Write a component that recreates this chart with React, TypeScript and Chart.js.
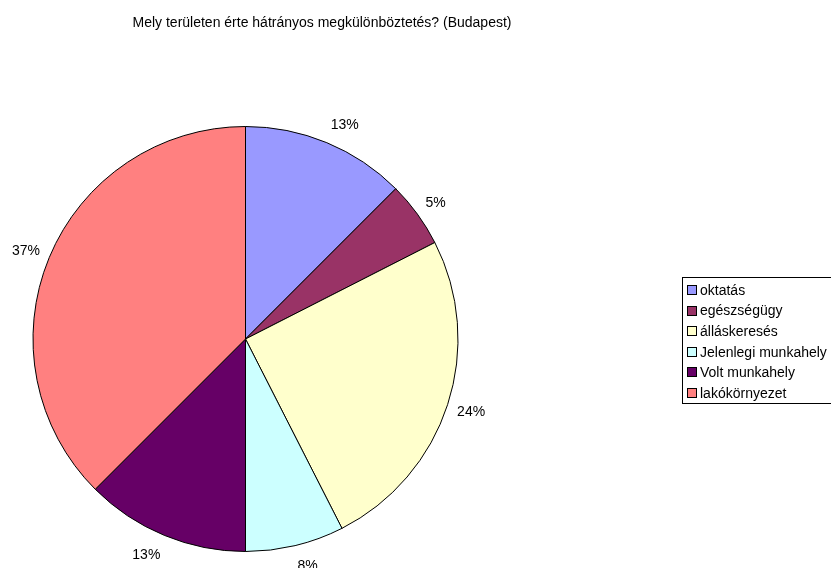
import React, { useEffect, useRef } from "react";
import { Chart, registerables } from "chart.js";

Chart.register(...registerables);

const TITLE = "Mely területen érte hátrányos megkülönböztetés? (Budapest)";
const CATEGORIES = ["oktatás", "egészségügy", "álláskeresés", "Jelenlegi munkahely", "Volt munkahely", "lakókörnyezet"];
const VALUES = [12.5, 5, 25, 7.5, 12.5, 37.5];
const PCT_LABELS = ["13%", "5%", "24%", "8%", "13%", "37%"];
const COLORS = ["#9999FF", "#993366", "#FFFFCC", "#CCFFFF", "#660066", "#FF8080"];

const FONT = "Arial, 'Liberation Sans', sans-serif";

const overlayPlugin = {
  id: "overlay",
  afterDraw(chart: any) {
    const ctx = chart.ctx;
    const meta = chart.getDatasetMeta(0);
    ctx.save();
    // title
    ctx.fillStyle = "#000";
    ctx.font = `14px ${FONT}`;
    ctx.textAlign = "center";
    ctx.textBaseline = "middle";
    ctx.fillText(TITLE, 322, 23);
    // percentage labels (box placed just outside the arc, Excel style)
    ctx.font = `14px ${FONT}`;
    ctx.textBaseline = "alphabetic";
    meta.data.forEach((arc: any, i: number) => {
      const p = arc.getProps(["x", "y", "startAngle", "endAngle", "outerRadius"], true);
      const mid = (p.startAngle + p.endAngle) / 2;
      const dx = Math.cos(mid);
      const dy = Math.sin(mid);
      const ra = p.outerRadius + 10;
      const w = ctx.measureText(PCT_LABELS[i]).width;
      const cx = p.x + ra * dx + Math.sign(dx) * (w / 2);
      const cy = p.y + ra * dy + dy * 10;
      ctx.fillText(PCT_LABELS[i], cx, cy + 5);
    });
    // legend
    const lx = 682, ly = 277, lw = 160, lh = 126;
    ctx.fillStyle = "#fff";
    ctx.fillRect(lx, ly, lw, lh);
    ctx.strokeStyle = "#000";
    ctx.lineWidth = 1;
    ctx.strokeRect(lx + 0.5, ly + 0.5, lw, lh);
    ctx.textAlign = "left";
    ctx.textBaseline = "middle";
    ctx.font = `14px ${FONT}`;
    CATEGORIES.forEach((c, i) => {
      const y = 290 + i * 20.6;
      ctx.fillStyle = COLORS[i];
      ctx.fillRect(687, Math.round(y - 5), 10, 10);
      ctx.strokeStyle = "#000";
      ctx.strokeRect(687.5, Math.round(y - 5) + 0.5, 9, 9);
      ctx.fillStyle = "#000";
      ctx.fillText(c, 700, y + 1);
    });
    ctx.restore();
  },
};

export default function App() {
  const ref = useRef<HTMLCanvasElement>(null);
  useEffect(() => {
    if (!ref.current) return;
    const chart = new Chart(ref.current, {
      type: "pie",
      data: {
        labels: CATEGORIES,
        datasets: [
          {
            data: VALUES,
            backgroundColor: COLORS,
            borderColor: "#000",
            borderWidth: 1,
            borderAlign: "center",
          } as any,
        ],
      },
      options: {
        responsive: false,
        animation: false,
        layout: { padding: { left: 32, top: 126, right: 372, bottom: 16 } },
        plugins: {
          legend: { display: false },
          title: { display: false },
          tooltip: { enabled: false },
        },
      },
      plugins: [overlayPlugin],
    });
    return () => chart.destroy();
  }, []);
  return (
    <div style={{ position: "fixed", left: 0, top: 0, width: 831, height: 568, background: "#fff" }}>
      <canvas ref={ref} width={831} height={568} style={{ width: 831, height: 568 }} />
    </div>
  );
}
